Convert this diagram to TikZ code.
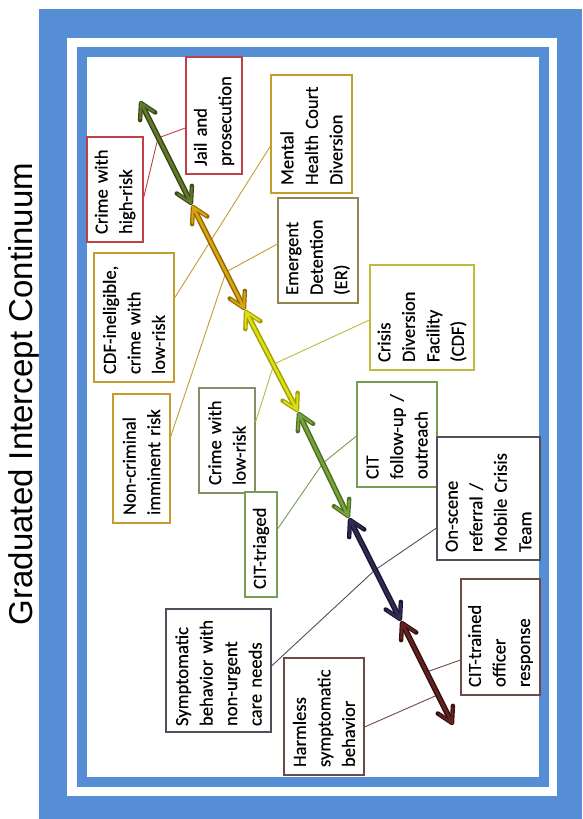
\documentclass[tikz,border=0pt]{standalone}
\usepackage{fontspec}
\setmainfont{Carlito}[FakeBold=0.35]
\newfontfamily\titlefont{Liberation Sans}
\usetikzlibrary{arrows.meta,calc}

% frame and outline colours
\definecolor{frameblue}{RGB}{85,142,213}
\definecolor{cred}{RGB}{192,64,72}
\definecolor{cgold}{RGB}{196,156,48}
\definecolor{cgoldgray}{RGB}{150,132,80}
\definecolor{colive}{RGB}{140,140,100}
\definecolor{cyellow}{RGB}{190,186,60}
\definecolor{cgreen}{RGB}{120,158,84}
\definecolor{cdgray}{RGB}{80,80,92}
\definecolor{cbrown}{RGB}{112,74,72}
% continuum arrow colours: edge shade and centre shade
\definecolor{aoneE}{RGB}{58,74,22}     \definecolor{aoneC}{RGB}{98,122,44}
\definecolor{atwoE}{RGB}{150,104,0}    \definecolor{atwoC}{RGB}{214,166,20}
\definecolor{athreeE}{RGB}{160,160,0}  \definecolor{athreeC}{RGB}{222,222,20}
\definecolor{afourE}{RGB}{78,110,34}   \definecolor{afourC}{RGB}{120,162,60}
\definecolor{afiveE}{RGB}{26,22,50}    \definecolor{afiveC}{RGB}{50,44,84}
\definecolor{asixE}{RGB}{58,14,14}     \definecolor{asixC}{RGB}{96,36,34}

\tikzset{
  cbox/.style={rotate=90, draw=#1, fill=white, line width=1.1pt,
    inner xsep=8pt, inner ysep=0pt, align=left,
    font=\fontsize{18.6}{24.5}\selectfont},
  leader/.style={draw=#1, line width=0.9pt},
  barbout/.tip={Straight Barb[length=15pt,width=17pt,line width=4.4pt,round]},
  barbin/.tip={Straight Barb[length=14pt,width=15.5pt,line width=2pt,round]},
  arrowedge/.style={draw=#1, line width=5.6pt, {barbout}-{barbout}},
  arrowcore/.style={draw=#1, line width=2.6pt, shorten <=1pt, shorten >=1pt, {barbin}-{barbin}}
}

\begin{document}
\begin{tikzpicture}[x=1pt,y=-1pt]
\useasboundingbox (0,0) rectangle (582,819);

% double blue frame
\fill[frameblue] (39,9) rectangle (582,819);
\fill[white] (67,38) rectangle (557,796);
\fill[frameblue] (77,47) rectangle (549,787);
\fill[white] (87,57) rectangle (539,777);

% title
\node[rotate=90, font=\titlefont\fontsize{33}{40}\selectfont] (title) at (24,394) {Graduated Intercept Continuum};

% situation boxes (left) and responses (right)
\node[cbox=cred, minimum width=117pt, minimum height=56pt, text width=101pt] (jail) at (214,115.5) {Jail and\\prosecution};
\node[cbox=cred, minimum width=105pt, minimum height=56pt, text width=89pt] (crimehigh) at (115,189.5) {Crime with\\high-risk};
\node[cbox=cgold, minimum width=118pt, minimum height=81pt, text width=102pt] (mhc) at (311.5,134) {Mental\\Health Court\\Diversion};
\node[cbox=cgoldgray, minimum width=105pt, minimum height=80pt, text width=89pt] (er) at (318,250.5) {Emergent\\Detention\\(ER)};
\node[cbox=cgold, minimum width=129pt, minimum height=80pt, text width=113pt] (cdfin) at (134,317.5) {CDF-ineligible,\\crime with\\low-risk};
\node[cbox=cgold, minimum width=129pt, minimum height=57pt, text width=113pt] (noncrim) at (141.5,458.5) {Non-criminal\\imminent risk};
\node[cbox=colive, minimum width=105pt, minimum height=56pt, text width=89pt] (crimelow) at (227,440.5) {Crime with\\low-risk};
\node[cbox=cgreen, minimum width=105pt, minimum height=32pt, text width=89pt] (cittri) at (261,544.5) {CIT-triaged};
\node[cbox=cyellow, minimum width=105pt, minimum height=104pt, text width=89pt] (cdf) at (422,317.5) {Crisis\\Diversion\\Facility\\(CDF)};
\node[cbox=cgreen, minimum width=105pt, minimum height=80pt, text width=89pt] (citfu) at (397,434.5) {CIT\\follow-up /\\outreach};
\node[cbox=cdgray, minimum width=123pt, minimum height=103pt, text width=107pt] (onscene) at (488.5,498.5) {On-scene\\referral /\\Mobile Crisis\\Team};
\node[cbox=cbrown, minimum width=116pt, minimum height=79pt, text width=100pt] (citoff) at (500.5,637) {CIT-trained\\officer\\response};
\node[cbox=cdgray, inner xsep=6pt, minimum width=123pt, minimum height=105pt, text width=111pt] (sympt) at (218.5,670.5) {Symptomatic\\behavior with\\non-urgent\\care needs};
\node[cbox=cbrown, minimum width=117pt, minimum height=80pt, text width=101pt] (harmless) at (324,716.5) {Harmless\\symptomatic\\behavior};

% points where the continuum segments meet
\coordinate (p0) at (140,101);
\coordinate (p1) at (192,205);
\coordinate (p2) at (245,310);
\coordinate (p3) at (298,412);
\coordinate (p4) at (349,518);
\coordinate (p5) at (401,621);
\coordinate (p6) at (453,725);

% bends of the leader lines on the continuum
\coordinate (v1) at (158,138);
\coordinate (v3) at (226,272);
\coordinate (v4) at (274,364);
\coordinate (v5) at (323,463);
\coordinate (v6) at (375,570);
\coordinate (v7a) at (437.5,695);
\coordinate (v7b) at (426.5,672);

% leader lines pairing each situation with its response
\draw[leader=cred] ($(crimehigh.south)+(0,8.5)$) -- (v1) -- ($(jail.north)+(0,12.5)$);
\draw[leader=cgold] ($(cdfin.south)+(0,-19.5)$) -- ($(mhc.north)+(0,12)$);
\draw[leader=cgold] ($(noncrim.south)+(0,-21.5)$) -- (v3) -- ($(er.north)+(0,-6.5)$);
\draw[leader=cyellow] ($(crimelow.south)+(0,-18.5)$) -- (v4) -- ($(cdf.north)+(0,2.5)$);
\draw[leader=cgreen] ($(cittri.south)+(0,-15.5)$) -- (v5) -- ($(citfu.north)+(0,1.5)$);
\draw[leader=cdgray] ($(sympt.south)+(0,-4.5)$) -- (v6) -- ($(onscene.north)+(0,29.5)$);
\draw[leader=cbrown] ($(harmless.south)+(0,10.5)$) -- (v7a) -- (v7b) -- ($(citoff.north)+(0,23)$);

% the graduated continuum of double-headed arrows, dark edge then light core
\foreach \a/\b/\c in {p0/p1/aone, p1/p2/atwo, p2/p3/athree, p3/p4/afour, p4/p5/afive, p5/p6/asix}{
  \draw[arrowedge=\c E] (\a) -- (\b);
  \draw[arrowcore=\c C] (\a) -- (\b);
}
\end{tikzpicture}
\end{document}
